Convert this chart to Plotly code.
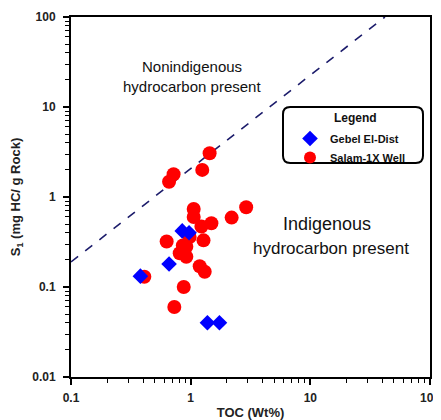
import plotly.graph_objects as go

# Salam-1X Well (red circles)
salam_toc = [1.44, 1.25, 0.72, 0.66, 1.06, 1.06, 2.91, 2.2, 1.49, 1.23, 1.28, 0.63,
             0.86, 0.98, 0.92, 0.81, 1.19, 1.31, 0.41, 0.875, 0.73, 0.92]
salam_s1 = [3.06, 2.0, 1.79, 1.48, 0.735, 0.60, 0.77, 0.59, 0.51, 0.47, 0.33, 0.32,
            0.29, 0.36, 0.217, 0.237, 0.17, 0.148, 0.13, 0.10, 0.06, 0.28]

# Gebel El-Dist (blue diamonds)
gebel_toc = [0.85, 0.97, 0.66, 0.38, 1.38, 1.74]
gebel_s1 = [0.42, 0.40, 0.18, 0.132, 0.040, 0.040]

# Boundary line
line_toc = [0.1, 42]
line_s1 = [0.19, 100]

x_ticks = [0.1, 1, 10, 100]
x_ticklabels = ["0.1", "1", "10", "100"]
y_ticks = [0.01, 0.1, 1, 10, 100]
y_ticklabels = ["0.01", "0.1", "1", "10", "100"]

FONT = "Liberation Sans"

fig = go.Figure()
fig.add_trace(go.Scatter(x=line_toc, y=line_s1, mode="lines",
                         line=dict(color="#1c1c6b", width=1.6, dash="dash"),
                         showlegend=False, hoverinfo="skip"))
fig.add_trace(go.Scatter(x=salam_toc, y=salam_s1, mode="markers", name="Salam-1X Well",
                         marker=dict(symbol="circle", size=14, color="#ff0000", line=dict(width=0))))
fig.add_trace(go.Scatter(x=gebel_toc, y=gebel_s1, mode="markers", name="Gebel El-Dist",
                         marker=dict(symbol="diamond", size=12, color="#0000ff", line=dict(width=0))))

def minor_vals(lo, hi):
    vals = []
    d = lo
    while d < hi:
        for k in range(2, 10):
            vals.append(k * d)
        d *= 10
    return vals

axis_common = dict(type="log", showgrid=False, zeroline=False, showline=True,
                   linecolor="black", linewidth=2, mirror=True, ticks="outside",
                   ticklen=6, tickwidth=1.5, tickcolor="black", automargin=False,
                   tickfont=dict(family=FONT, size=12, color="#222", weight="bold"))

fig.update_xaxes(**axis_common, range=[-1, 2], tickmode="array", tickvals=x_ticks,
                 ticktext=x_ticklabels, ticklabelstandoff=3,
                 minor=dict(ticks="outside", ticklen=4, tickwidth=1.2, tickcolor="black",
                            tickmode="array", tickvals=minor_vals(0.1, 100)),
                 title=dict(text="TOC (Wt%)", font=dict(family=FONT, size=13, color="#222", weight="bold"),
                            standoff=4))
fig.update_yaxes(**axis_common, range=[-2, 2], tickmode="array", tickvals=y_ticks,
                 ticktext=y_ticklabels, ticklabelstandoff=5,
                 minor=dict(ticks="outside", ticklen=4, tickwidth=1.2, tickcolor="black",
                            tickmode="array", tickvals=minor_vals(0.01, 100)),
                 title=dict(text="S<sub>1</sub> (mg HC/ g Rock)",
                            font=dict(family=FONT, size=13, color="#222", weight="bold"),
                            standoff=10))

# text annotations (paper coords)
def px_x(p):
    return (p - 71) / (430 - 71)

def px_y(p):
    return (377 - p) / (377 - 17)

def label(text, xp, yp, size, bold=False):
    fig.add_annotation(x=px_x(xp), y=px_y(yp), xref="paper", yref="paper",
                       xanchor="center", yanchor="middle", text=text, showarrow=False,
                       font=dict(family=FONT, size=size, color="#111",
                                 weight="bold" if bold else "normal"))

label("Nonindigenous", 192, 67, 15)
label("hydrocarbon present", 192, 87, 15)
label("Indigenous", 327, 224, 18)
label("hydrocarbon present", 331, 249, 17)

# rounded legend box
x0, x1 = px_x(283), px_x(423)
y0, y1 = px_y(163), px_y(107)
r = 0.02
ry = r * (430 - 71) / (377 - 17)
path = (f"M {x0 + r},{y1} L {x1 - r},{y1} Q {x1},{y1} {x1},{y1 - ry} "
        f"L {x1},{y0 + ry} Q {x1},{y0} {x1 - r},{y0} L {x0 + r},{y0} "
        f"Q {x0},{y0} {x0},{y0 + ry} L {x0},{y1 - ry} Q {x0},{y1} {x0 + r},{y1} Z")
fig.add_shape(type="path", path=path, xref="paper", yref="paper",
              line=dict(color="black", width=2), fillcolor="white", layer="below")
label("Legend", 355, 118, 12, bold=True)

# page body has an 8px margin: figure is offset by 8px
fig.update_layout(
    width=433, height=412,
    margin=dict(l=63, r=11, t=9, b=43),
    paper_bgcolor="white", plot_bgcolor="rgba(0,0,0,0)",
    legend=dict(x=px_x(290), y=px_y(124), xanchor="left", yanchor="top",
                bgcolor="rgba(0,0,0,0)", borderwidth=0, traceorder="reversed",
                font=dict(family=FONT, size=11, color="#111", weight="bold"),
                itemsizing="constant", tracegroupgap=0),
    showlegend=True,
)

fig.write_html("out.html")
